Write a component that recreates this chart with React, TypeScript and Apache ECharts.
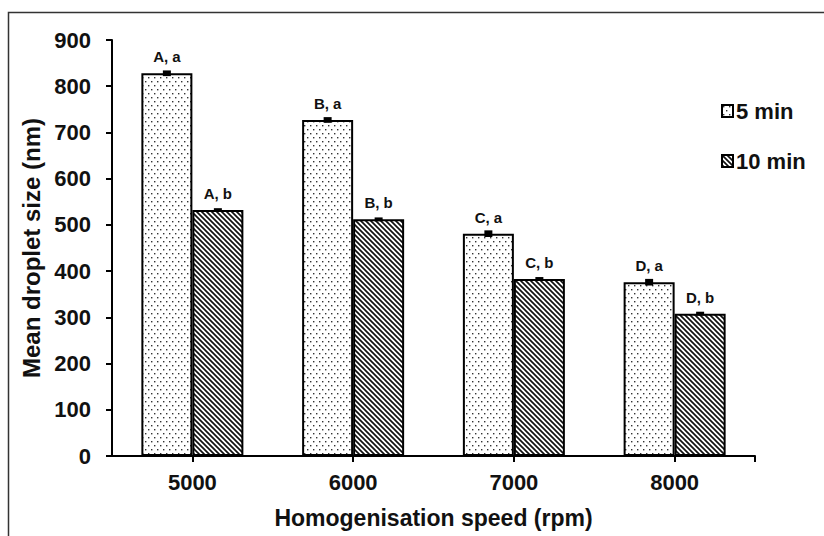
import React, { useEffect, useRef } from "react";
import * as echarts from "echarts";

const categories = ["5000", "6000", "7000", "8000"];
const seriesNames = ["5 min", "10 min"];
const values5 = [828, 727, 481, 376];
const values10 = [532, 512, 383, 308];
const err5 = [4, 4, 5, 5];
const err10 = [2, 2, 2, 2];
const labels5 = ["A, a", "B, a", "C, a", "D, a"];
const labels10 = ["A, b", "B, b", "C, b", "D, b"];
const yTicks = { min: 0, max: 900, interval: 100 };

const FONT = "Arial, 'Liberation Sans', sans-serif";
const BAR_W = 51;

function dotPattern() {
  const c = document.createElement("canvas");
  c.width = 6;
  c.height = 8;
  const g = c.getContext("2d")!;
  g.fillStyle = "#ffffff";
  g.fillRect(0, 0, 6, 8);
  g.fillStyle = "#333";
  g.fillRect(1, 1, 1.4, 1.4);
  g.fillRect(4, 5, 1.4, 1.4);
  return { image: c, repeat: "repeat" as const };
}

function hatchPattern() {
  const s = 5;
  const c = document.createElement("canvas");
  c.width = s;
  c.height = s;
  const g = c.getContext("2d")!;
  g.fillStyle = "#ffffff";
  g.fillRect(0, 0, s, s);
  g.strokeStyle = "#111";
  g.lineWidth = 1.7;
  g.beginPath();
  g.moveTo(-s, 0);
  g.lineTo(s, 2 * s);
  g.moveTo(0, 0);
  g.lineTo(s, s);
  g.moveTo(0, -s);
  g.lineTo(2 * s, s);
  g.stroke();
  return { image: c, repeat: "repeat" as const };
}

export default function App() {
  const ref = useRef<HTMLDivElement>(null);
  useEffect(() => {
    const chart = echarts.init(ref.current!, undefined, { renderer: "svg" });
    const dots = dotPattern();
    const hatch = hatchPattern();

    const errSeries = (vals: number[], errs: number[], offset: number) => ({
      type: "custom",
      silent: true,
      z: 5,
      data: vals.map((v, i) => [i, v, errs[i]]),
      renderItem: (params: any, api: any) => {
        const i = api.value(0);
        const v = api.value(1);
        const e = api.value(2);
        const hi = api.coord([i, v + e]);
        const lo = api.coord([i, v - e]);
        const x = hi[0] + offset;
        return {
          type: "group",
          children: [
            {
              type: "line",
              shape: { x1: x, y1: hi[1], x2: x, y2: lo[1] },
              style: { stroke: "#000", lineWidth: 2 },
            },
            {
              type: "rect",
              shape: { x: x - 4, y: hi[1] - 1, width: 8, height: Math.max(3, lo[1] - hi[1] + 2) },
              style: { fill: "#000" },
            },
          ],
        };
      },
    });

    const labelStyle = {
      show: true,
      position: "top",
      distance: 9,
      fontSize: 15,
      fontWeight: "bold",
      color: "#111",
      fontFamily: FONT,
    };

    chart.setOption({
      animation: false,
      backgroundColor: "#ffffff",
      textStyle: { fontFamily: FONT },
      graphic: [
        {
          type: "rect",
          shape: { x: 8.5, y: 12.5, width: 900, height: 600 },
          style: { fill: "none", stroke: "#333", lineWidth: 1.5 },
          silent: true,
          z: -10,
        },
        {
          type: "line",
          shape: { x1: 755, y1: 456, x2: 755, y2: 462 },
          style: { stroke: "#000", lineWidth: 2 },
          silent: true,
        },
      ],
      grid: { left: 112, right: 69, top: 40, bottom: 80, containLabel: false },
      legend: {
        orient: "vertical",
        left: 716,
        top: 95,
        itemGap: 28,
        itemWidth: 11,
        itemHeight: 12,
        icon: "rect",
        data: seriesNames,
        textStyle: { fontSize: 22, fontWeight: "bold", color: "#111", fontFamily: FONT, padding: [0, 0, 0, -2] },
      },
      xAxis: {
        type: "category",
        data: categories,
        name: "Homogenisation speed (rpm)",
        nameLocation: "middle",
        nameGap: 50,
        nameTextStyle: { fontSize: 23, fontWeight: "bold", color: "#111" },
        axisLine: { lineStyle: { color: "#000", width: 2 } },
        axisTick: { show: true, alignWithLabel: true, length: 6, lineStyle: { color: "#000", width: 2 } },
        axisLabel: { fontSize: 22, fontWeight: "bold", color: "#111", margin: 15 },
      },
      yAxis: {
        type: "value",
        min: yTicks.min,
        max: yTicks.max,
        interval: yTicks.interval,
        name: "Mean droplet size (nm)",
        nameLocation: "middle",
        nameGap: 64,
        nameTextStyle: { fontSize: 24, fontWeight: "bold", color: "#111" },
        axisLine: { show: true, lineStyle: { color: "#000", width: 2 } },
        axisTick: { show: true, inside: false, length: 6, lineStyle: { color: "#000", width: 2 } },
        axisLabel: { fontSize: 22, fontWeight: "bold", color: "#111", margin: 21 },
        splitLine: { show: false },
      },
      series: [
        {
          name: seriesNames[0],
          type: "bar",
          barWidth: BAR_W,
          barGap: "0%",
          data: values5,
          itemStyle: { color: dots, borderColor: "#000", borderWidth: 2 },
          label: { ...labelStyle, formatter: (p: any) => labels5[p.dataIndex] },
        },
        {
          name: seriesNames[1],
          type: "bar",
          barWidth: BAR_W,
          barGap: "0%",
          data: values10,
          itemStyle: { color: hatch, borderColor: "#000", borderWidth: 2 },
          label: { ...labelStyle, formatter: (p: any) => labels10[p.dataIndex] },
        },
        errSeries(values5, err5, -BAR_W / 2),
        errSeries(values10, err10, BAR_W / 2),
      ],
    });
    return () => chart.dispose();
  }, []);
  return (
    <div
      ref={ref}
      style={{ position: "absolute", left: 0, top: 0, width: 824, height: 536 }}
    />
  );
}
